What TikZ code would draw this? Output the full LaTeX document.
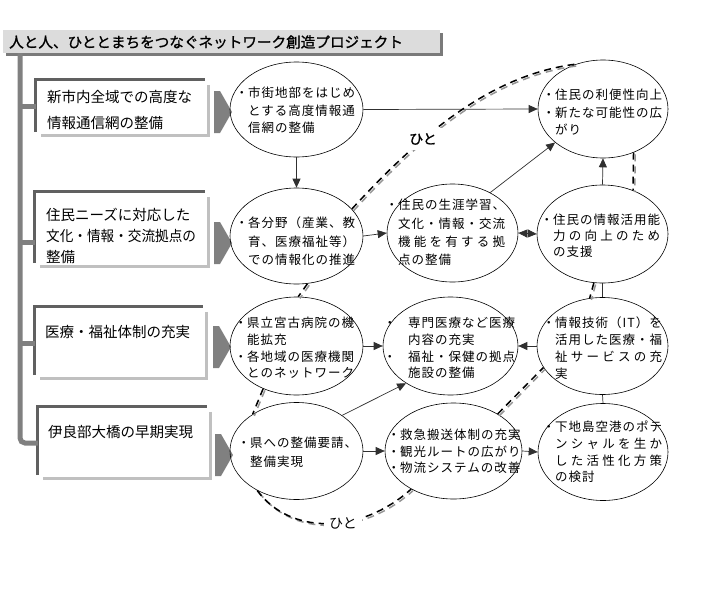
\documentclass[tikz,border=0pt]{standalone}
\usepackage{fontspec}
\usepackage{graphicx}
\usepackage{calc}
\setmainfont{Noto Sans CJK JP}
\newfontfamily\jpe[LetterSpace=8]{Noto Sans CJK JP}
\newfontfamily\jpb[FakeBold=1.2]{Noto Sans CJK JP}
\usetikzlibrary{arrows.meta,shapes.geometric}
\definecolor{trunkc}{HTML}{808080}
\definecolor{boxdark}{HTML}{606060}
\definecolor{boxshade}{HTML}{C0C0C0}
\definecolor{titlefill}{HTML}{DCDCDC}
\definecolor{titleshade}{HTML}{7A7A7A}
\definecolor{barrowc}{HTML}{808080}
\definecolor{linec}{HTML}{303030}
\definecolor{hitogray}{HTML}{959595}
\newcommand\bu[1][0pt]{\leavevmode\llap{・\kern#1}}
\newcommand\spr[2]{\makebox[\widthof{#1}][s]{#2}}
\newcommand\hitolink[1]{%
  \draw[hitog, transform canvas={shift={(1.7pt,-1.7pt)}}] #1;
  \draw[hitob] #1;}
\newcommand\blockarrow[1]{%
  \fill[barrowc] ([shift={(0pt,21pt)}]#1) -- ([shift={(6pt,21pt)}]#1) -- ([shift={(18pt,0pt)}]#1)
     -- ([shift={(6pt,-21pt)}]#1) -- ([shift={(0pt,-21pt)}]#1) -- cycle;}
\begin{document}
\begin{tikzpicture}[x=1pt,y=-1pt,
  ell/.style={draw=black, line width=0.6pt, ellipse, inner sep=0pt},
  etxt/.style={anchor=north west, inner sep=0pt, align=left, font=\jpe\fontsize{12.5}{#1}\selectfont},
  btxt/.style={anchor=north west, inner sep=0pt, align=left, font=\fontsize{14.5}{#1}\selectfont},
  boxn/.style={rectangle, fill=white, draw=none, inner sep=0pt},
  boxtop/.style={draw=boxdark, line width=3pt},
  boxsh/.style={draw=boxshade, line width=3pt},
  trunk/.style={draw=trunkc, line width=5pt},
  conn/.style={draw=linec, line width=0.7pt, -{Triangle[length=9pt,width=8pt]}},
  plain/.style={draw=linec, line width=0.7pt},
  hitob/.style={draw=black, line width=1.5pt, dash pattern=on 7pt off 5pt},
  hitog/.style={draw=hitogray, line width=1.5pt, dash pattern=on 7pt off 5pt},
  hlabel/.style={fill=white, inner sep=5pt, font=\jpb\fontsize{14}{16}\selectfont}
]
\useasboundingbox (0,0) rectangle (710,589);

% title
\node[rectangle, fill=titleshade, minimum width=437pt, minimum height=23pt, inner sep=0pt] (tsh) at (224.5,44.5) {};
\node[rectangle, fill=titlefill, minimum width=437pt, minimum height=23pt, inner sep=0pt] (title) at (221.5,41.5) {};
\node[anchor=west, inner sep=0pt, font=\jpb\fontsize{14.6}{16}\selectfont] (ttxt) at (9,42) {人と人、ひととまちをつなぐネットワーク創造プロジェクト};

% boxes
\node[boxn, minimum width=169pt, minimum height=52pt] (b1) at (120.5,106) {};
\node[boxn, minimum width=170pt, minimum height=71pt] (b2) at (120,227.5) {};
\node[boxn, minimum width=168pt, minimum height=68pt] (b3) at (119,341) {};
\node[boxn, minimum width=169pt, minimum height=68pt] (b4) at (122.5,441) {};
\foreach \b in {b1,b2,b3,b4}{
  \draw[boxsh] ([shift={(3.5pt,-5pt)}]\b.north east) -- ([shift={(3.5pt,-3.5pt)}]\b.south east) -- ([shift={(5pt,-3.5pt)}]\b.south west);
  \draw[boxtop] (\b.south west) -- (\b.north west) -- (\b.north east);
}

% trunk
\coordinate (tr) at (20,53);
\draw[trunk, rounded corners=5pt] (tr) |- ([yshift=-2pt]b4.west);
\draw[trunk] (b1.west -| tr) -- (b1.west);
\draw[trunk] ([yshift=-14.5pt]b2.west -| tr) -- ([yshift=-14.5pt]b2.west);
\draw[trunk] ([yshift=-2pt]b3.west -| tr) -- ([yshift=-2pt]b3.west);

% box texts
\node[btxt=26] (bt1) at (47,90) {新市内全域での高度な\\情報通信網の整備};
\node[btxt=21] (bt2) at (46,208) {住民ニーズに対応した\\\scalebox{0.94}[1]{文化・情報・交流拠点の}\\整備};
\node[btxt=20] (bt3) at (45,325) {医療・福祉体制の充実};
\node[btxt=20] (bt4) at (48,425) {伊良部大橋の早期実現};

% block arrows
\coordinate (a1) at (214,112);
\coordinate (a2) at (214,243);
\coordinate (a3) at (213,347);
\coordinate (a4) at (215,455);
\blockarrow{a1}
\blockarrow{a2}
\blockarrow{a3}
\blockarrow{a4}

% ellipses
\node[ell, minimum width=133pt, minimum height=95pt] (e1) at (296.5,109.5) {};
\node[ell, minimum width=133pt, minimum height=96pt] (e2) at (296.5,236) {};
\node[ell, minimum width=133pt, minimum height=98pt] (e3) at (296.5,346) {};
\node[ell, minimum width=133pt, minimum height=97pt] (e4) at (296.5,451) {};
\node[ell, minimum width=131pt, minimum height=98pt] (e5) at (452.5,233) {};
\node[ell, minimum width=135pt, minimum height=98pt] (e6) at (450.5,346) {};
\node[ell, minimum width=137pt, minimum height=96pt] (e7) at (453.5,451) {};
\node[ell, minimum width=130pt, minimum height=98pt] (e8) at (603,109) {};
\node[ell, minimum width=131pt, minimum height=98pt] (e9) at (602.5,234) {};
\node[ell, minimum width=131pt, minimum height=97pt] (e10) at (602.5,346) {};
\node[ell, minimum width=130pt, minimum height=97pt] (e11) at (603,452) {};

% ellipse texts
\node[etxt=17.5] (t1) at (248,87) {\bu 市街地部をはじめ\\とする高度情報通\\信網の整備};
\node[etxt=18.5] (t2) at (248,217) {\bu 各分野（産業、教\\育、医療福祉等）\\での情報化の推進};
\node[etxt=16.7] (t3) at (247,317) {\bu 県立宮古病院の機\\能拡充\\\bu 各地域の医療機関\\とのネットワーク};
\node[etxt=19] (t4) at (250,437) {\bu 県への整備要請、\\整備実現};
\node[etxt=18.3] (t5) at (398,199) {\bu 住民の生涯学習、\\文化・情報・交流\\\spr{文化・情報・交流}{機\hfil 能\hfil を\hfil 有\hfil す\hfil る\hfil 拠}\\点の整備};
\node[etxt=16.7] (t6) at (408,317) {\bu[12pt]専門医療など医療\\内容の充実\\\bu[12pt]福祉・保健の拠点\\施設の整備};
\node[etxt=16.5] (t7) at (400,429) {\bu 救急搬送体制の充実\\\bu 観光ルートの広がり\\\bu 物流システムの改善};
\node[etxt=17.5] (t8) at (555,89) {\bu 住民の利便性向上\\\bu 新たな可能性の広\\がり};
\node[etxt=16] (t9) at (553,214) {\bu 住民の情報活用能\\\spr{住民の情報活用能}{力\hfil の\hfil 向\hfil 上\hfil の\hfil た\hfil め}\\の支援};
\node[etxt=16.7] (t10) at (555,317) {\bu 情報技術（IT）を\\活用した医療・福\\\spr{活用した医療・福}{祉\hfil サ\hfil ー\hfil ビ\hfil ス\hfil の\hfil 充}\\実};
\node[etxt=16.7] (t11) at (555,421) {\bu 下地島空港のポテ\\\spr{下地島空港のポテ}{ン\hfil シ\hfil ャ\hfil ル\hfil を\hfil 生\hfil か}\\\spr{下地島空港のポテ}{し\hfil た\hfil 活\hfil 性\hfil 化\hfil 方\hfil 策}\\の検討};

% connectors
\draw[conn] (e1.south) -- (e2.north);
\draw[conn] (e1.east) -- (e8.west);
\draw[conn] (e2.east) -- (e5.west);
\draw[conn, {Triangle[length=9pt,width=8pt]}-{Triangle[length=9pt,width=8pt]}] (e5.east) -- (e9.west);
\draw[conn] (e5.47) -- (e8.215);
\draw[conn] (e9.north) -- (e8.south);
\draw[conn] (e3.east) -- (e6.west);
\draw[conn] (e10.west) -- (e6.east);
\draw[conn] (e4.38) -- (e6.220);
\draw[conn] (e4.east) -- (e7.west);
\draw[conn] (e7.east) -- (e11.west);
\draw[plain] (e9.south) -- (e10.north);
\draw[plain] (e10.south) -- (e11.north);

% hito links
\hitolink{(e2.26) .. controls (420,135) and (490,75) .. (e8.121)}
\hitolink{(e4.-135) .. controls (290,535) and (360,535) .. (e7.-138)}
\hitolink{(e8.-55) -- (e9.55)}
\hitolink{(e9.-100) -- (e10.105)}
\hitolink{(e2.-77) -- (e3.88)}
\hitolink{(e3.-128) -- (e4.140)}
\hitolink{(e7.40) -- (e10.200)}
\node[hlabel] (h1) at (423,139) {ひと};
\node[hlabel, font=\fontsize{14}{16}\selectfont] (h2) at (343,523) {ひと};
\end{tikzpicture}
\end{document}
